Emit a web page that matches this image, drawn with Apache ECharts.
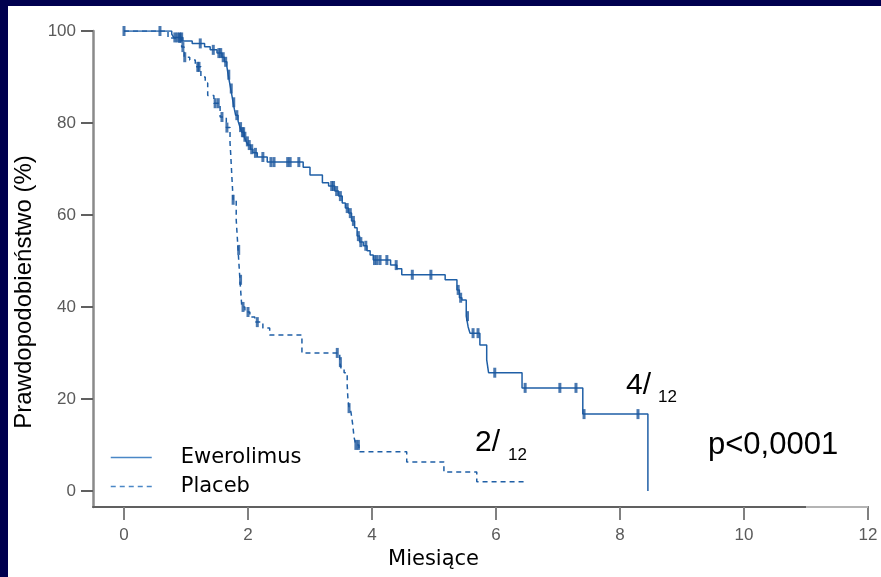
<!DOCTYPE html>
<html><head><meta charset="utf-8">
<script src="https://cdn.jsdelivr.net/npm/echarts@6/dist/echarts.min.js"></script>
<style>html,body{margin:0;padding:0;background:#fff}#c{width:881px;height:577px}</style>
</head><body><div id="c"></div>
<script>
const seriesNames = ['Ewerolimus', 'Placeb'];
const xTicks = [0, 2, 4, 6, 8, 10, 12];
const yTicks = [0, 20, 40, 60, 80, 100];
const xAxisTitle = 'Miesiące';
const yAxisTitle = 'Prawdopodobieństwo (%)';

// Kaplan-Meier steps [month, survival %]
const everolimusSteps = [[0,100],[0.77,99.3],[0.8,98.6],[0.95,97.8],[1.1,97.3],[1.3,96.6],[1.39,95.9],[1.5,95.2],[1.58,94.3],[1.62,93.3],[1.66,92.2],[1.68,90.5],[1.7,89],[1.72,87.5],[1.74,86],[1.76,84.5],[1.78,83],[1.8,81.7],[1.84,80.4],[1.87,79.1],[1.9,78],[1.94,77],[1.97,76],[2.0,75.2],[2.04,74.3],[2.08,73.5],[2.15,72.6],[2.31,71.5],[2.89,70.4],[3.0,68.7],[3.2,67],[3.3,66.3],[3.4,65.2],[3.46,64.1],[3.52,62.6],[3.57,61.5],[3.62,60.4],[3.67,58.7],[3.72,57.2],[3.76,55.4],[3.8,54.1],[3.86,53.3],[3.92,52.2],[3.97,51.3],[4.02,50.2],[4.3,49.1],[4.4,48.3],[4.48,47],[5.18,45.9],[5.37,43.7],[5.41,42],[5.45,41.5],[5.52,38],[5.55,35.7],[5.58,34.3],[5.74,31.7],[5.85,28.5],[5.88,25.7],[6.42,22.4],[7.4,16.7],[8.45,0]];
const placeboSteps = [[0,100],[0.71,98.5],[0.93,96.5],[0.97,94.3],[1.06,93.7],[1.15,92.2],[1.24,90],[1.31,88.7],[1.35,86],[1.45,84.3],[1.55,81.3],[1.65,79],[1.71,75.7],[1.72,73.5],[1.74,68.3],[1.76,63.3],[1.81,58.9],[1.84,52.4],[1.87,45.9],[1.9,40],[1.95,38.9],[2.03,37.8],[2.11,36.7],[2.24,35.4],[2.35,33.9],[2.87,30],[3.48,28],[3.5,26.7],[3.55,25.7],[3.6,23],[3.61,20.4],[3.63,18],[3.66,17.2],[3.69,14.3],[3.71,11.7],[3.74,10],[3.79,8.5],[4.56,6.3],[5.16,4.1],[5.69,2],[6.45,2]];

// Censored observations [month, survival %]
const everolimusCensored = [[0,100],[0.58,100],[0.82,98.6],[0.86,98.6],[0.9,98.6],[0.93,98.6],[1.23,97.3],[1.44,95.9],[1.53,95.2],[1.56,95.2],[1.6,94.3],[1.64,93.3],[1.69,90.5],[1.73,87.5],[1.77,84.5],[1.82,81.7],[1.88,79.1],[1.91,78],[1.93,78],[1.95,77],[1.99,76],[2.02,75.2],[2.06,74.3],[2.12,73.5],[2.24,72.6],[2.37,71.5],[2.42,71.5],[2.64,71.5],[2.68,71.5],[2.82,71.5],[3.35,66.3],[3.38,66.3],[3.43,65.2],[3.49,64.1],[3.6,61.5],[3.65,60.4],[3.7,58.7],[3.78,55.4],[3.82,54.1],[3.9,53.3],[4.04,50.2],[4.08,50.2],[4.13,50.2],[4.24,50.2],[4.39,49.1],[4.65,47],[4.95,47],[5.39,43.7],[5.43,42],[5.54,38],[5.63,34.3],[5.71,34.3],[5.98,25.7],[6.47,22.4],[7.03,22.4],[7.29,22.4],[7.42,16.7],[8.29,16.7]];
const placeboCensored = [[0.9,98.5],[0.95,96.5],[0.98,94.3],[1.19,92.2],[1.21,92.2],[1.47,84.3],[1.52,84.3],[1.58,81.3],[1.66,79],[1.76,63.3],[1.85,52.4],[1.88,45.9],[1.92,40],[2.0,38.9],[2.15,36.7],[3.44,30],[3.49,28],[3.63,18],[3.74,10],[3.78,10]];

const annotations = ['4/', '12', '2/', '12', 'p<0,0001'];

const BLUE = '#1f5fa6';
const chart = echarts.init(document.getElementById('c'), null, {renderer: 'canvas'});
const labelFont = {color: '#5a5a5a', fontSize: 17, fontFamily: 'Liberation Sans, Arial, sans-serif'};
const comic = 'DejaVu Sans, sans-serif';

chart.setOption({
  animation: false,
  backgroundColor: '#ffffff',
  grid: {left: 93, right: 13, top: 31, bottom: 70},
  xAxis: {
    type: 'value', min: -0.5, max: 12,
    name: xAxisTitle, nameLocation: 'middle', nameGap: 41,
    nameTextStyle: {color: '#000', fontSize: 21, fontFamily: comic, padding: [0, 94, 0, 0]},
    axisLine: {show: true, onZero: false, lineStyle: {color: '#606060', width: 2}},
    axisTick: {show: true, length: 13, customValues: xTicks, lineStyle: {color: '#808080', width: 2}},
    axisLabel: Object.assign({customValues: xTicks, margin: 20}, labelFont),
    splitLine: {show: false}
  },
  yAxis: {
    type: 'value', min: -3.5, max: 100,
    name: yAxisTitle, nameLocation: 'middle', nameGap: 56, nameRotate: 90,
    nameTextStyle: {color: '#000', fontSize: 24, fontFamily: 'Liberation Sans, Arial, sans-serif', padding: [0, 46, 0, 0]},
    axisLine: {show: true, onZero: false, lineStyle: {color: '#8a8a8a', width: 2.5}},
    axisTick: {show: true, length: 12, customValues: yTicks, lineStyle: {color: '#606060', width: 2}},
    axisLabel: Object.assign({customValues: yTicks, margin: 17}, labelFont),
    splitLine: {show: false}
  },
  legend: {
    orient: 'vertical', left: 110, top: 447, padding: 0,
    itemWidth: 41, itemHeight: 14, itemGap: 8,
    data: seriesNames,
    lineStyle: {color: '#4a87c6', width: 1.5},
    itemStyle: {opacity: 0, borderWidth: 0, color: 'rgba(0,0,0,0)'},
    textStyle: {color: '#000', fontSize: 21, fontFamily: comic, padding: [0, 0, 0, 24]},
    selectedMode: false
  },
  series: [
    {name: seriesNames[0], type: 'line', step: 'end', symbol: 'none', data: everolimusSteps,
     lineStyle: {color: BLUE, width: 1.5}, itemStyle: {color: BLUE}, z: 3},
    {name: seriesNames[1], type: 'line', step: 'end', symbol: 'none', data: placeboSteps,
     lineStyle: {color: BLUE, width: 1.5, type: [5, 4]}, itemStyle: {color: BLUE}, z: 2},
    {name: seriesNames[0] + ' cenzurowane', type: 'scatter', symbol: 'rect', symbolSize: [3, 10],
     data: everolimusCensored, itemStyle: {color: '#1c569c'}, z: 4},
    {name: seriesNames[1] + ' cenzurowane', type: 'scatter', symbol: 'rect', symbolSize: [3, 10],
     data: placeboCensored, itemStyle: {color: '#1c569c'}, z: 4}
  ],
  graphic: [
    {type: 'rect', left: 0, top: 0, shape: {width: 8, height: 577}, style: {fill: '#00004f'}, z: 100},
    {type: 'rect', left: 0, top: 0, shape: {width: 881, height: 6}, style: {fill: '#00004f'}, z: 100},
    {type: 'line', shape: {x1: 806, y1: 507, x2: 868, y2: 507}, style: {stroke: '#b4b4b4', lineWidth: 2}, z: 100},
    {type: 'text', x: 626, y: 386, style: {text: annotations[0], font: '30px Liberation Sans, Arial, sans-serif', fill: '#000', align: 'left', verticalAlign: 'middle'}, z: 100},
    {type: 'text', x: 658, y: 397, style: {text: annotations[1], font: '17px Liberation Sans, Arial, sans-serif', fill: '#000', align: 'left', verticalAlign: 'middle'}, z: 100},
    {type: 'text', x: 475, y: 443, style: {text: annotations[2], font: '30px Liberation Sans, Arial, sans-serif', fill: '#000', align: 'left', verticalAlign: 'middle'}, z: 100},
    {type: 'text', x: 508, y: 455, style: {text: annotations[3], font: '17px Liberation Sans, Arial, sans-serif', fill: '#000', align: 'left', verticalAlign: 'middle'}, z: 100},
    {type: 'text', x: 708, y: 445, style: {text: annotations[4], font: '31px Liberation Sans, Arial, sans-serif', fill: '#000', align: 'left', verticalAlign: 'middle'}, z: 100}
  ]
});
</script></body></html>
